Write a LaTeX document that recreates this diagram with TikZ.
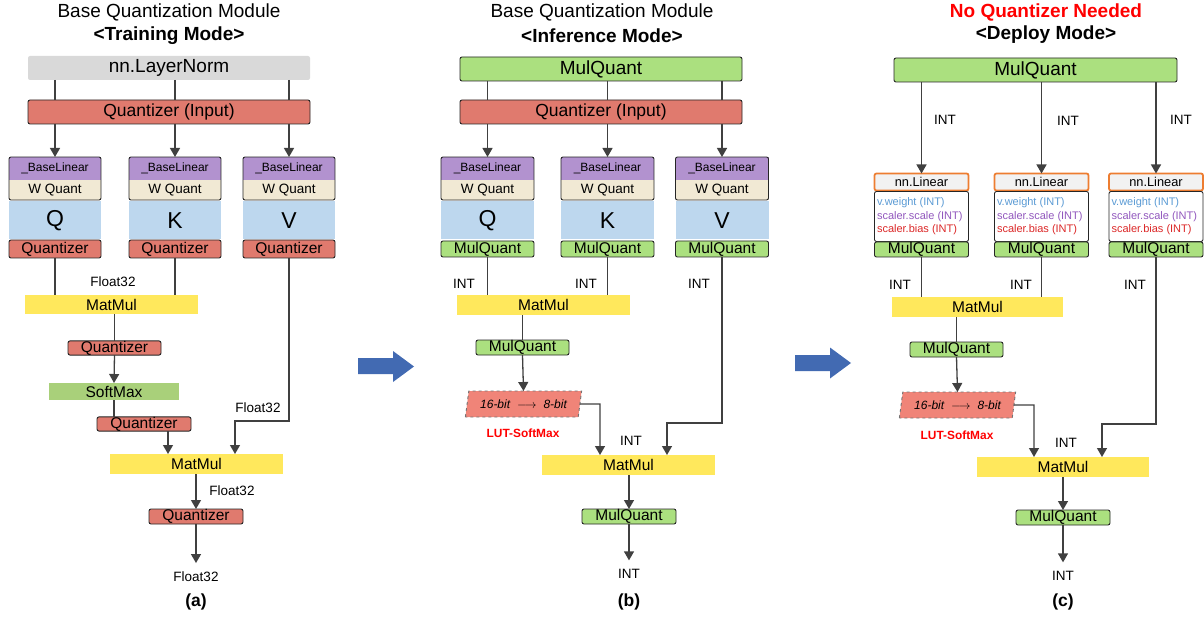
\documentclass[tikz,border=0pt]{standalone}
\usepackage{fontspec}
\setmainfont{Liberation Sans}
\usetikzlibrary{arrows.meta,shapes.geometric}
\definecolor{qred}{RGB}{224,122,110}
\definecolor{lngray}{RGB}{217,217,217}
\definecolor{blpurple}{RGB}{178,146,207}
\definecolor{wqbeige}{RGB}{241,233,212}
\definecolor{qkvblue}{RGB}{189,215,238}
\definecolor{mmyellow}{RGB}{255,232,92}
\definecolor{smgreen}{RGB}{169,208,122}
\definecolor{mqgreen}{RGB}{171,224,127}
\definecolor{lutred}{RGB}{240,132,120}
\definecolor{linorange}{RGB}{237,125,49}
\definecolor{conn}{RGB}{64,64,64}
\definecolor{bigblue}{RGB}{66,106,178}
\definecolor{txtblue}{RGB}{91,155,213}
\definecolor{txtpurple}{RGB}{146,88,190}
\definecolor{txtred}{RGB}{220,40,40}
\definecolor{alarmred}{RGB}{255,0,0}
\begin{document}
\begin{tikzpicture}[x=1pt,y=-1pt,
 every node/.style={inner sep=0pt, outer sep=0pt},
 sz/.style 2 args={minimum width=#1pt, minimum height=#2pt},
 ln/.style={draw=conn, line width=1.3pt},
 arr/.style={ln, -{Triangle[width=10pt,length=9pt]}},
 frame/.style={draw=black!85, line width=0.9pt, rounded corners=2pt},
 fbig/.style={font=\fontsize{19}{22}\selectfont},
 fbold/.style={font=\fontsize{19}{22}\selectfont\bfseries},
 fcap/.style={font=\fontsize{17.5}{20}\selectfont\bfseries},
 fmid/.style={font=\fontsize{15.5}{18}\selectfont},
 fsm/.style={font=\fontsize{13.5}{16}\selectfont},
 fbl/.style={font=\fontsize{12}{14}\selectfont},
 ftiny/.style={font=\fontsize{11}{13.5}\selectfont},
 grayb/.style={fill=lngray, rounded corners=2pt, fbig},
 qz/.style={frame, fill=qred, fmid},
 qzin/.style={frame, fill=qred, font=\fontsize{17.5}{20}\selectfont},
 mq/.style={frame, fill=mqgreen, fmid},
 mqbig/.style={frame, fill=mqgreen, fbig},
 blp/.style={fill=blpurple, fbl},
 wqb/.style={fill=wqbeige, fsm},
 qkv/.style={fill=qkvblue, font=\fontsize{23}{26}\selectfont},
 mm/.style={fill=mmyellow, fmid},
 sm/.style={fill=smgreen, fmid},
 lut/.style={trapezium, trapezium left angle=73, trapezium right angle=107, trapezium stretches=true,
   fill=lutred, draw=black!55, dashed, line width=0.9pt, font=\fontsize{12}{14}\selectfont\itshape},
 lutlbl/.style={text=alarmred, font=\fontsize{11.9}{14}\selectfont\bfseries},
 nnlin/.style={draw=linorange, line width=1.8pt, fill=black!5, rounded corners=2pt, font=\fontsize{12.8}{15}\selectfont},
 wbox/.style={frame, fill=white},
 lbl/.style={fsm}
]
\useasboundingbox (0,0) rectangle (1204,620);

% ================= (a) =================
\node[fbig] (aT1) at (169,12) {Base Quantization Module};
\node[fbold] (aT2) at (169,36) {<Training Mode>};
\node[grayb, sz={282}{24}] (aLN) at (169,68) {nn.LayerNorm};
\node[qzin, sz={282}{24}] (aQI) at (169,112) {Quantizer (Input)};
\foreach \c/\x in {Q/55,K/175,V/289}{
 \node[blp, sz={92}{23}] (aBL\c) at (\x,168.5) {\_BaseLinear};
 \node[wqb, sz={92}{20}] (aWQ\c) at (\x,190) {W Quant};
 \draw[frame] (aBL\c.north west) rectangle (aWQ\c.south east);
 \node[qkv, sz={92}{38}] (aX\c) at (\x,220.5) {\c};
 \node[qz, sz={92}{18}] (aQz\c) at (\x,249) {Quantizer};
 \draw[ln] (aBL\c.north |- aLN.south) -- (aBL\c.north |- aQI.north);
 \draw[arr] (aBL\c.north |- aQI.south) -- (aBL\c.north);
}
\node[mm, sz={173}{19}] (aMM1) at (111.5,304.5) {MatMul};
\node[lbl] (aF1) at (113,282) {Float32};
\draw[ln] (aQzQ.south) -- (aQzQ.south |- aMM1.north);
\draw[ln] (aQzK.south) -- (aQzK.south |- aMM1.north);
\node[qz, sz={93}{14}] (aQ2) at (114.5,348) {Quantizer};
\draw[ln] (aQ2.north |- aMM1.south) -- (aQ2.north);
\node[sm, sz={130}{17}] (aSM) at (114,391.5) {SoftMax};
\draw[arr] (aQ2.south) -- (aSM.north);
\node[qz, sz={94}{14}] (aQ3) at (144,424) {Quantizer};
\draw[ln] (aSM.south) -- (aSM.south |- aQ3.north);
\node[mm, sz={173}{20}] (aMM2) at (196.5,464) {MatMul};
\coordinate (aQ3x) at (168,431);
\draw[arr] (aQ3x) -- (aQ3x |- aMM2.north);
\coordinate (aVc) at (235,421);
\draw[arr] (aQzV.south) |- (aVc) -- (aVc |- aMM2.north);
\node[lbl] (aF2) at (258,408) {Float32};
\node[qz, sz={94}{15}] (aQ4) at (196,516.5) {Quantizer};
\draw[arr] (aQ4.north |- aMM2.south) -- (aQ4.north);
\node[lbl] (aF3) at (232,491) {Float32};
\node[lbl] (aOut) at (196,577) {Float32};
\draw[arr, shorten >=9pt] (aQ4.south) -- (aOut.north);
\node[fcap] (aCap) at (196,602) {(a)};

% big arrows between panels
\fill[bigblue] (358,358) -- (393,358) -- (393,351) -- (414,366.5) -- (393,382) -- (393,374) -- (358,374) -- cycle;
\fill[bigblue] (795,355) -- (830,355) -- (830,347.5) -- (851,363) -- (830,378.5) -- (830,371) -- (795,371) -- cycle;

% ================= (b) =================
\node[fbig] (bT1) at (602,12) {Base Quantization Module};
\node[fbold] (bT2) at (602,36) {<Inference Mode>};
\node[mqbig, sz={282}{24}] (bMQ) at (601,69) {MulQuant};
\node[qzin, sz={282}{24}] (bQI) at (601,112) {Quantizer (Input)};
\foreach \c/\x in {Q/487.5,K/607.5,V/722}{
 \node[blp, sz={93}{23}] (bBL\c) at (\x,168.5) {\_BaseLinear};
 \node[wqb, sz={93}{20}] (bWQ\c) at (\x,190) {W Quant};
 \draw[frame] (bBL\c.north west) rectangle (bWQ\c.south east);
 \node[qkv, sz={93}{38}] (bX\c) at (\x,220.5) {\c};
 \node[mq, sz={93}{16}] (bMq\c) at (\x,249) {MulQuant};
 \draw[ln] (bBL\c.north |- bMQ.south) -- (bBL\c.north |- bQI.north);
 \draw[arr] (bBL\c.north |- bQI.south) -- (bBL\c.north);
}
\node[lbl] (bI1) at (464,284) {INT};
\node[lbl] (bI2) at (586,284) {INT};
\node[lbl] (bI3) at (699,284) {INT};
\node[mm, sz={173}{20}] (bMM1) at (543.5,305) {MatMul};
\draw[ln] (bMqQ.south) -- (bMqQ.south |- bMM1.north);
\draw[ln] (bMqK.south) -- (bMqK.south |- bMM1.north);
\node[mq, sz={93}{15}] (bMQ2) at (522.5,347.5) {MulQuant};
\draw[ln] (bMQ2.north |- bMM1.south) -- (bMQ2.north);
\node[lut, sz={117}{26}] (bLUT) at (523.5,404) {16-bit\hspace{7pt}$\longrightarrow$\hspace{7pt}8-bit};
\draw[arr] (bMQ2.south) -- (bLUT.north);
\node[lutlbl] (bLL) at (523,433) {LUT-SoftMax};
\node[mm, sz={173}{20}] (bMM2) at (628.5,465) {MatMul};
\coordinate (bLc) at (600,404);
\draw[arr] (bLUT.east) -- (bLc) -- (bLc |- bMM2.north);
\coordinate (bVc) at (667,423);
\draw[arr] (bMqV.south) |- (bVc) -- (bVc |- bMM2.north);
\node[lbl] (bI4) at (631,441) {INT};
\node[mq, sz={94}{15}] (bMQ3) at (629,516.5) {MulQuant};
\draw[arr] (bMQ3.north |- bMM2.south) -- (bMQ3.north);
\node[lbl] (bOut) at (629,574) {INT};
\draw[arr, shorten >=9pt] (bMQ3.south) -- (bOut.north);
\node[fcap] (bCap) at (629,602) {(b)};

% ================= (c) =================
\node[fbold, text=alarmred] (cT1) at (1046,12) {No Quantizer Needed};
\node[fbold] (cT2) at (1046,35) {<Deploy Mode>};
\node[mqbig, sz={283}{24}] (cMQ) at (1035.5,70) {MulQuant};
\foreach \c/\x in {1/921.5,2/1041.5,3/1156}{
 \node[nnlin, sz={94}{17}] (cNL\c) at (\x,182) {nn.Linear};
 \node[wbox, sz={94}{50}] (cW\c) at (\x,216.5) {};
 \node[ftiny, anchor=west, align=left] (cTx\c) at ([xshift=2.5pt]cW\c.west)
   {\textcolor{txtblue}{v.weight (INT)}\\\textcolor{txtpurple}{scaler.scale (INT)}\\\textcolor{txtred}{scaler.bias (INT)}};
 \node[mq, sz={94}{15}] (cMq\c) at (\x,249.5) {MulQuant};
 \draw[arr] (cNL\c.north |- cMQ.south) -- (cNL\c.north);
}
\node[lbl] (cI1) at (945,120) {INT};
\node[lbl] (cI2) at (1068,121) {INT};
\node[lbl] (cI3) at (1181,120) {INT};
\node[lbl] (cI4) at (900,285) {INT};
\node[lbl] (cI5) at (1021,285) {INT};
\node[lbl] (cI6) at (1135,285) {INT};
\node[mm, sz={171}{20}] (cMM1) at (977.5,307) {MatMul};
\draw[ln] (cMq1.south) -- (cMq1.south |- cMM1.north);
\draw[ln] (cMq2.south) -- (cMq2.south |- cMM1.north);
\node[mq, sz={93}{15}] (cMQ2) at (956.5,349.5) {MulQuant};
\draw[ln] (cMQ2.north |- cMM1.south) -- (cMQ2.north);
\node[lut, sz={117}{26}] (cLUT) at (957.5,405) {16-bit\hspace{7pt}$\longrightarrow$\hspace{7pt}8-bit};
\draw[arr] (cMQ2.south) -- (cLUT.north);
\node[lutlbl] (cLL) at (957,435) {LUT-SoftMax};
\node[mm, sz={172}{20}] (cMM2) at (1063,467) {MatMul};
\coordinate (cLc) at (1034,405);
\draw[arr] (cLUT.east) -- (cLc) -- (cLc |- cMM2.north);
\coordinate (cVc) at (1102,424);
\draw[arr] (cMq3.south) |- (cVc) -- (cVc |- cMM2.north);
\node[lbl] (cI7) at (1066,443) {INT};
\node[mq, sz={94}{15}] (cMQ3) at (1063,517.5) {MulQuant};
\draw[arr] (cMQ3.north |- cMM2.south) -- (cMQ3.north);
\node[lbl] (cOut) at (1063,576) {INT};
\draw[arr, shorten >=9pt] (cMQ3.south) -- (cOut.north);
\node[fcap] (cCap) at (1063,602) {(c)};
\end{tikzpicture}
\end{document}
